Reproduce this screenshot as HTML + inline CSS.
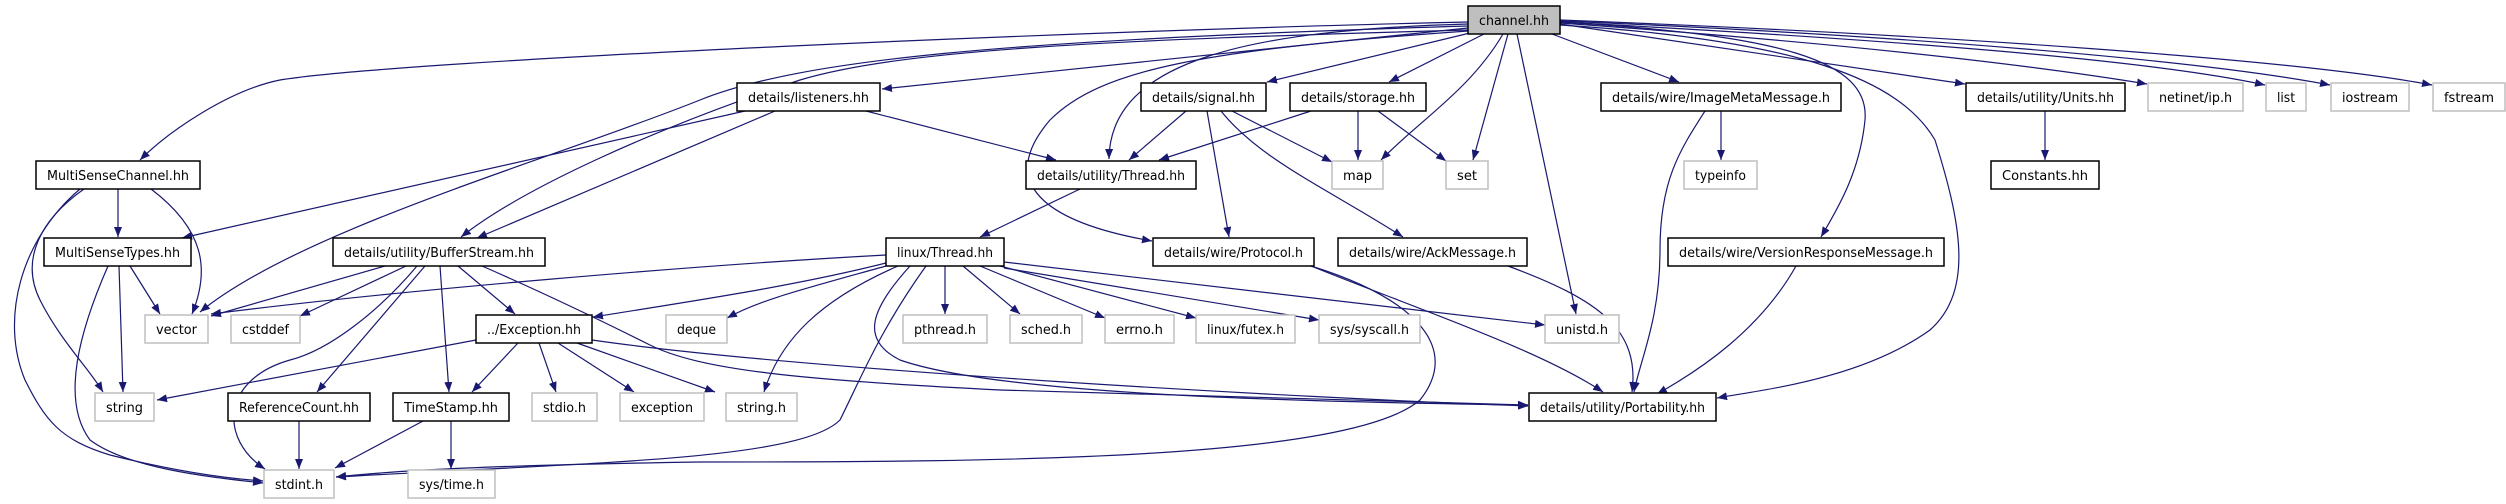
<!DOCTYPE html>
<html><head><meta charset="utf-8"><style>
html,body{margin:0;padding:0;background:#fff;}
svg{display:block;}
text{font-family:"DejaVu Sans Condensed","Liberation Sans",sans-serif;font-size:13px;fill:#000;}
.e{fill:none;stroke:#191970;stroke-width:1.2;marker-end:url(#a);}
.d{fill:#fff;stroke:#000;stroke-width:1.5;}
.x{fill:#fff;stroke:#bfbfbf;stroke-width:1.5;}
</style></head><body>
<svg width="2506" height="504" viewBox="0 0 2506 504" xmlns="http://www.w3.org/2000/svg">
<defs><marker id="a" markerUnits="userSpaceOnUse" markerWidth="11" markerHeight="8" refX="10" refY="4" orient="auto"><path d="M0,0 L10,4 L0,8 z" fill="#191970"/></marker></defs>
<g>
<!-- channel.hh edges -->
<path class="e" d="M1468,22 C1100,30 400,60 280,80 C230,90 170,130 140,160"/>
<path class="e" d="M1468,28 L882,89"/>
<path class="e" d="M1468,30 C1100,40 900,50 800,80 C650,130 520,190 461,237"/>
<path class="e" d="M1468,26 C1000,40 800,60 700,100 C550,160 300,230 200,312"/>
<path class="e" d="M1468,24 C1250,30 1110,60 1109,159"/>
<path class="e" d="M1468,31 C1200,50 1100,70 1050,120 C990,190 1060,225 1152,241"/>
<path class="e" d="M1470,33 L1267,82"/>
<path class="e" d="M1484,34 L1389,82"/>
<path class="e" d="M1503,34 C1470,90 1420,120 1381,160"/>
<path class="e" d="M1508,34 L1473,160"/>
<path class="e" d="M1517,34 L1576,314"/>
<path class="e" d="M1552,34 L1679,82"/>
<path class="e" d="M1560,25 C1800,40 1900,80 1935,140 C1960,220 1975,290 1930,330 C1860,380 1760,390 1717,398"/>
<path class="e" d="M1560,22 C1780,35 1870,60 1865,120 C1860,170 1840,205 1821,237"/>
<path class="e" d="M1560,24 L1965,84"/>
<path class="e" d="M1560,23 C1800,40 2000,60 2147,84"/>
<path class="e" d="M1560,22 C1900,40 2150,60 2265,85"/>
<path class="e" d="M1560,21 C1900,35 2200,60 2330,85"/>
<path class="e" d="M1560,20 C1950,35 2300,60 2432,85"/>
<!-- listeners -->
<path class="e" d="M745,111 L182,238"/>
<path class="e" d="M775,111 L477,238"/>
<path class="e" d="M866,111 L1056,160"/>
<!-- MultiSenseChannel -->
<path class="e" d="M118,189 L118,237"/>
<path class="e" d="M151,189 C205,230 210,270 192,314"/>
<path class="e" d="M84,189 C40,220 20,260 40,300 C60,340 90,370 103,392"/>
<path class="e" d="M80,189 C20,240 0,320 25,380 C45,420 60,440 110,455 C170,470 220,478 263,481"/>
<!-- MultiSenseTypes -->
<path class="e" d="M130,266 L160,314"/>
<path class="e" d="M119,266 L123,392"/>
<path class="e" d="M108,266 C80,330 60,400 90,440 C130,470 220,478 263,483"/>
<!-- BufferStream -->
<path class="e" d="M385,266 L211,316"/>
<path class="e" d="M406,266 L300,316"/>
<path class="e" d="M458,266 L515,314"/>
<path class="e" d="M425,266 L317,392"/>
<path class="e" d="M440,266 L449,392"/>
<path class="e" d="M417,266 C380,310 330,350 290,360 C220,380 220,440 265,469"/>
<path class="e" d="M482,266 C560,300 620,330 650,345 C700,370 800,380 1000,390 C1300,400 1450,403 1528,405"/>
<!-- Exception -->
<path class="e" d="M476,340 L157,400"/>
<path class="e" d="M518,343 L472,392"/>
<path class="e" d="M539,343 L556,392"/>
<path class="e" d="M558,343 L634,392"/>
<path class="e" d="M577,343 L715,392"/>
<path class="e" d="M592,340 C800,370 1300,398 1528,406"/>
<!-- ReferenceCount / TimeStamp -->
<path class="e" d="M299,421 L299,469"/>
<path class="e" d="M423,421 L335,468"/>
<path class="e" d="M451,421 L451,469"/>
<!-- utility/Thread -->
<path class="e" d="M1080,189 L980,237"/>
<!-- linux/Thread -->
<path class="e" d="M886,255 C700,265 400,290 211,314"/>
<path class="e" d="M890,262 C800,285 700,300 593,317"/>
<path class="e" d="M886,266 C800,290 760,300 727,318"/>
<path class="e" d="M898,266 C820,300 780,340 764,392"/>
<path class="e" d="M926,266 C880,330 860,380 840,420 C800,460 600,462 336,477"/>
<path class="e" d="M945,266 L945,314"/>
<path class="e" d="M963,266 L1020,314"/>
<path class="e" d="M980,266 L1105,318"/>
<path class="e" d="M1000,266 L1196,318"/>
<path class="e" d="M1004,268 L1319,320"/>
<path class="e" d="M1004,262 L1545,325"/>
<path class="e" d="M910,266 C870,310 860,340 900,360 C1000,395 1300,402 1528,405"/>
<!-- signal -->
<path class="e" d="M1186,111 L1129,160"/>
<path class="e" d="M1232,111 L1332,162"/>
<path class="e" d="M1207,111 L1229,237"/>
<path class="e" d="M1221,111 C1260,160 1330,190 1403,237"/>
<!-- storage -->
<path class="e" d="M1311,111 L1159,160"/>
<path class="e" d="M1358,111 L1358,160"/>
<path class="e" d="M1378,111 L1446,161"/>
<!-- Protocol / Ack / Image / Version / Units -->
<path class="e" d="M1311,266 C1420,300 1460,350 1420,400 C1350,460 1000,462 700,462 C500,465 400,470 336,477"/>
<path class="e" d="M1311,266 C1420,310 1540,350 1603,392"/>
<path class="e" d="M1508,266 C1600,300 1640,330 1632,392"/>
<path class="e" d="M1721,111 L1721,160"/>
<path class="e" d="M1705,111 C1680,150 1660,180 1660,250 C1660,320 1640,360 1634,392"/>
<path class="e" d="M1796,266 C1760,330 1700,370 1657,394"/>
<path class="e" d="M2045,111 L2045,160"/>
</g>
<g>
<rect x="1468" y="6" width="92" height="28" fill="#bfbfbf" stroke="#000" stroke-width="1.5"/><text x="1514" y="25" text-anchor="middle" textLength="70" lengthAdjust="spacingAndGlyphs">channel.hh</text>
<rect class="d" x="737" y="83" width="143" height="28"/><text x="808.5" y="102" text-anchor="middle" textLength="121" lengthAdjust="spacingAndGlyphs">details/listeners.hh</text>
<rect class="d" x="1141" y="83" width="125" height="28"/><text x="1203.5" y="102" text-anchor="middle" textLength="103" lengthAdjust="spacingAndGlyphs">details/signal.hh</text>
<rect class="d" x="1290" y="83" width="136" height="28"/><text x="1358" y="102" text-anchor="middle" textLength="114" lengthAdjust="spacingAndGlyphs">details/storage.hh</text>
<rect class="d" x="1601" y="83" width="240" height="28"/><text x="1721" y="102" text-anchor="middle" textLength="218" lengthAdjust="spacingAndGlyphs">details/wire/ImageMetaMessage.h</text>
<rect class="d" x="1966" y="83" width="159" height="28"/><text x="2045.5" y="102" text-anchor="middle" textLength="137" lengthAdjust="spacingAndGlyphs">details/utility/Units.hh</text>
<rect class="x" x="2148" y="83" width="95" height="28"/><text x="2195.5" y="102" text-anchor="middle" textLength="73" lengthAdjust="spacingAndGlyphs">netinet/ip.h</text>
<rect class="x" x="2266" y="83" width="40" height="28"/><text x="2286" y="102" text-anchor="middle" textLength="18" lengthAdjust="spacingAndGlyphs">list</text>
<rect class="x" x="2331" y="83" width="78" height="28"/><text x="2370" y="102" text-anchor="middle" textLength="56" lengthAdjust="spacingAndGlyphs">iostream</text>
<rect class="x" x="2433" y="83" width="72" height="28"/><text x="2469" y="102" text-anchor="middle" textLength="50" lengthAdjust="spacingAndGlyphs">fstream</text>
<rect class="d" x="36" y="161" width="164" height="28"/><text x="118" y="180" text-anchor="middle" textLength="142" lengthAdjust="spacingAndGlyphs">MultiSenseChannel.hh</text>
<rect class="d" x="1026" y="161" width="170" height="28"/><text x="1111" y="180" text-anchor="middle" textLength="148" lengthAdjust="spacingAndGlyphs">details/utility/Thread.hh</text>
<rect class="x" x="1332" y="161" width="51" height="28"/><text x="1357.5" y="180" text-anchor="middle" textLength="29" lengthAdjust="spacingAndGlyphs">map</text>
<rect class="x" x="1446" y="161" width="42" height="28"/><text x="1467" y="180" text-anchor="middle" textLength="20" lengthAdjust="spacingAndGlyphs">set</text>
<rect class="x" x="1684" y="161" width="73" height="28"/><text x="1720.5" y="180" text-anchor="middle" textLength="51" lengthAdjust="spacingAndGlyphs">typeinfo</text>
<rect class="d" x="1991" y="161" width="108" height="28"/><text x="2045" y="180" text-anchor="middle" textLength="86" lengthAdjust="spacingAndGlyphs">Constants.hh</text>
<rect class="d" x="44" y="238" width="147" height="28"/><text x="117.5" y="257" text-anchor="middle" textLength="125" lengthAdjust="spacingAndGlyphs">MultiSenseTypes.hh</text>
<rect class="d" x="333" y="238" width="212" height="28"/><text x="439" y="257" text-anchor="middle" textLength="190" lengthAdjust="spacingAndGlyphs">details/utility/BufferStream.hh</text>
<rect class="d" x="886" y="238" width="118" height="28"/><text x="945" y="257" text-anchor="middle" textLength="96" lengthAdjust="spacingAndGlyphs">linux/Thread.hh</text>
<rect class="d" x="1153" y="238" width="161" height="28"/><text x="1233.5" y="257" text-anchor="middle" textLength="139" lengthAdjust="spacingAndGlyphs">details/wire/Protocol.h</text>
<rect class="d" x="1338" y="238" width="189" height="28"/><text x="1432.5" y="257" text-anchor="middle" textLength="167" lengthAdjust="spacingAndGlyphs">details/wire/AckMessage.h</text>
<rect class="d" x="1668" y="238" width="276" height="28"/><text x="1806" y="257" text-anchor="middle" textLength="254" lengthAdjust="spacingAndGlyphs">details/wire/VersionResponseMessage.h</text>
<rect class="x" x="145" y="315" width="63" height="28"/><text x="176.5" y="334" text-anchor="middle" textLength="41" lengthAdjust="spacingAndGlyphs">vector</text>
<rect class="x" x="231" y="315" width="69" height="28"/><text x="265.5" y="334" text-anchor="middle" textLength="47" lengthAdjust="spacingAndGlyphs">cstddef</text>
<rect class="d" x="476" y="315" width="116" height="28"/><text x="534" y="334" text-anchor="middle" textLength="94" lengthAdjust="spacingAndGlyphs">../Exception.hh</text>
<rect class="x" x="666" y="315" width="61" height="28"/><text x="696.5" y="334" text-anchor="middle" textLength="39" lengthAdjust="spacingAndGlyphs">deque</text>
<rect class="x" x="903" y="315" width="84" height="28"/><text x="945" y="334" text-anchor="middle" textLength="62" lengthAdjust="spacingAndGlyphs">pthread.h</text>
<rect class="x" x="1010" y="315" width="72" height="28"/><text x="1046" y="334" text-anchor="middle" textLength="50" lengthAdjust="spacingAndGlyphs">sched.h</text>
<rect class="x" x="1105" y="315" width="69" height="28"/><text x="1139.5" y="334" text-anchor="middle" textLength="47" lengthAdjust="spacingAndGlyphs">errno.h</text>
<rect class="x" x="1196" y="315" width="99" height="28"/><text x="1245.5" y="334" text-anchor="middle" textLength="77" lengthAdjust="spacingAndGlyphs">linux/futex.h</text>
<rect class="x" x="1319" y="315" width="101" height="28"/><text x="1369.5" y="334" text-anchor="middle" textLength="79" lengthAdjust="spacingAndGlyphs">sys/syscall.h</text>
<rect class="x" x="1545" y="315" width="74" height="28"/><text x="1582" y="334" text-anchor="middle" textLength="52" lengthAdjust="spacingAndGlyphs">unistd.h</text>
<rect class="x" x="95" y="393" width="59" height="28"/><text x="124.5" y="412" text-anchor="middle" textLength="37" lengthAdjust="spacingAndGlyphs">string</text>
<rect class="d" x="228" y="393" width="142" height="28"/><text x="299" y="412" text-anchor="middle" textLength="120" lengthAdjust="spacingAndGlyphs">ReferenceCount.hh</text>
<rect class="d" x="393" y="393" width="116" height="28"/><text x="451" y="412" text-anchor="middle" textLength="94" lengthAdjust="spacingAndGlyphs">TimeStamp.hh</text>
<rect class="x" x="532" y="393" width="65" height="28"/><text x="564.5" y="412" text-anchor="middle" textLength="43" lengthAdjust="spacingAndGlyphs">stdio.h</text>
<rect class="x" x="620" y="393" width="84" height="28"/><text x="662" y="412" text-anchor="middle" textLength="62" lengthAdjust="spacingAndGlyphs">exception</text>
<rect class="x" x="726" y="393" width="71" height="28"/><text x="761.5" y="412" text-anchor="middle" textLength="49" lengthAdjust="spacingAndGlyphs">string.h</text>
<rect class="d" x="1529" y="393" width="187" height="28"/><text x="1622.5" y="412" text-anchor="middle" textLength="165" lengthAdjust="spacingAndGlyphs">details/utility/Portability.hh</text>
<rect class="x" x="264" y="470" width="70" height="28"/><text x="299" y="489" text-anchor="middle" textLength="48" lengthAdjust="spacingAndGlyphs">stdint.h</text>
<rect class="x" x="408" y="470" width="87" height="28"/><text x="451.5" y="489" text-anchor="middle" textLength="65" lengthAdjust="spacingAndGlyphs">sys/time.h</text>
</g>
</svg>
</body></html>
